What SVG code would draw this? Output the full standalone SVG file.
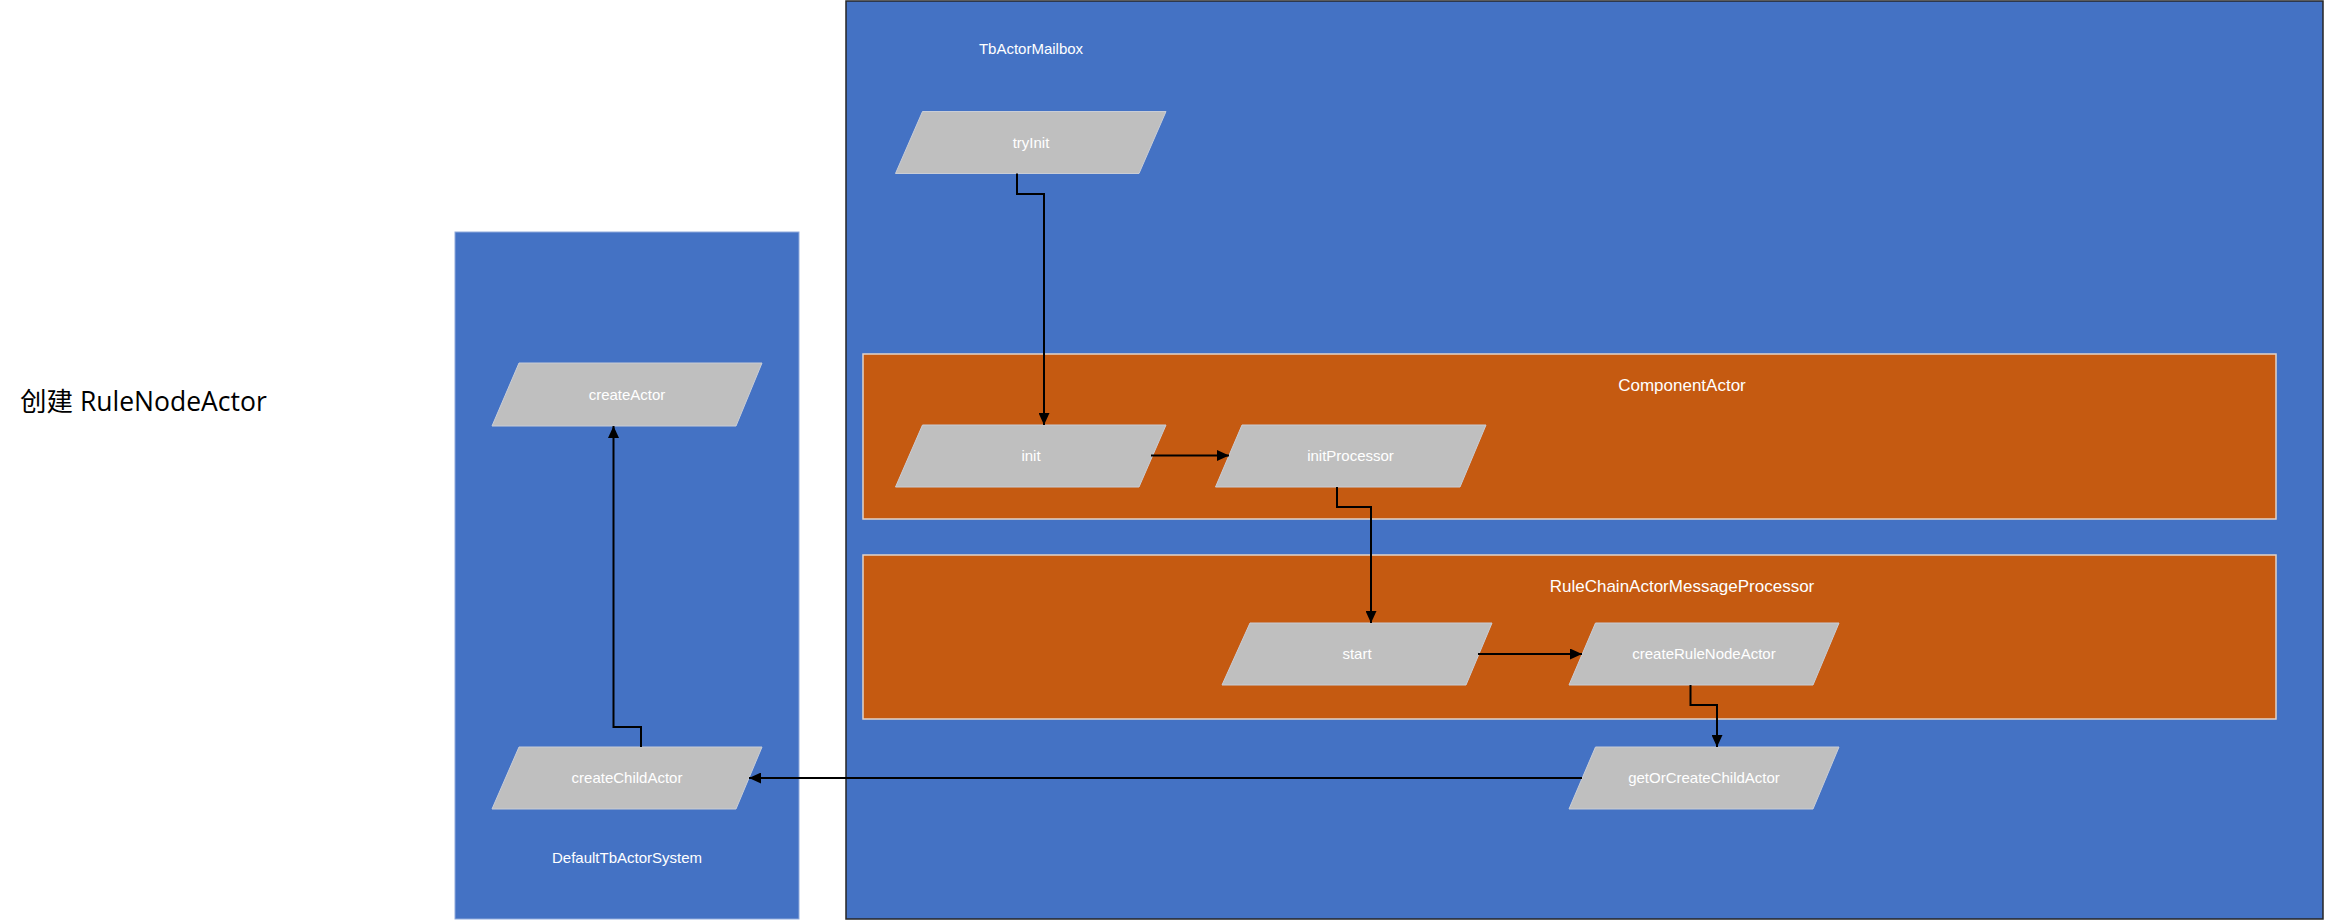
<svg xmlns="http://www.w3.org/2000/svg" width="2326" height="921" viewBox="0 0 2326 921">
<style>
.lbl{font-family:"Liberation Sans",Arial,sans-serif;font-size:15px;fill:#ffffff;text-anchor:middle}
.ttl{font-family:"Liberation Sans",Arial,sans-serif;font-size:17px;fill:#ffffff;text-anchor:middle}
.node{fill:#BFBFBF;stroke:#c9cdd6;stroke-width:1}
.orange{fill:#C55A11;stroke:#e2d3c8;stroke-width:1.5}
.conn{fill:none;stroke:#000000;stroke-width:2}
</style>
<defs>
<marker id="arr" markerUnits="userSpaceOnUse" viewBox="0 0 12 11" refX="12" refY="5.5" markerWidth="12" markerHeight="11" orient="auto">
<path d="M0,0 L12,5.5 L0,11 z" fill="#000000"/>
</marker>
</defs>
<rect width="2326" height="921" fill="#ffffff"/>
<g id="title">
<text x="20" y="411" font-family="'Open Sans','Noto Sans CJK SC',sans-serif" font-size="26.5" fill="#000000">创建 RuleNodeActor</text>
</g>
<g id="TbActorMailbox">
<rect x="846" y="1" width="1477" height="918" fill="#4472C4" stroke="#262626" stroke-width="1.5"/>
<text class="lbl" x="1031" y="54">TbActorMailbox</text>
</g>
<g id="DefaultTbActorSystem">
<rect x="455" y="232" width="344" height="687" fill="#4472C4" stroke="#8faadc" stroke-width="1"/>
<text class="lbl" x="627" y="863">DefaultTbActorSystem</text>
</g>
<g id="ComponentActor">
<rect class="orange" x="863" y="354" width="1413" height="165"/>
<text class="ttl" x="1682" y="391">ComponentActor</text>
</g>
<g id="RuleChainActorMessageProcessor">
<rect class="orange" x="863" y="555" width="1413" height="164"/>
<text class="ttl" x="1682" y="592">RuleChainActorMessageProcessor</text>
</g>
<g id="tryInit">
<polygon class="node" points="922.5,111.5 1166,111.5 1139,173.5 895.5,173.5"/>
<text class="lbl" x="1031" y="148">tryInit</text>
</g>
<g id="init">
<polygon class="node" points="922.5,425 1166,425 1139,487 895.5,487"/>
<text class="lbl" x="1031" y="461">init</text>
</g>
<g id="initProcessor">
<polygon class="node" points="1242,425 1486,425 1460,487 1215.5,487"/>
<text class="lbl" x="1350.5" y="461">initProcessor</text>
</g>
<g id="start">
<polygon class="node" points="1250,623 1492,623 1466,685 1222,685"/>
<text class="lbl" x="1357" y="659">start</text>
</g>
<g id="createRuleNodeActor">
<polygon class="node" points="1595.5,623 1839,623 1813,685 1569,685"/>
<text class="lbl" x="1704" y="659">createRuleNodeActor</text>
</g>
<g id="getOrCreateChildActor">
<polygon class="node" points="1595.5,747 1839,747 1813,809 1569,809"/>
<text class="lbl" x="1704" y="783">getOrCreateChildActor</text>
</g>
<g id="createActor">
<polygon class="node" points="519,363 762,363 736,426 492,426"/>
<text class="lbl" x="627" y="400">createActor</text>
</g>
<g id="createChildActor">
<polygon class="node" points="519,747 762,747 736,809 492,809"/>
<text class="lbl" x="627" y="783">createChildActor</text>
</g>
<g id="connectors">
<path class="conn" d="M1017,173.5 V194 H1044 V425" marker-end="url(#arr)"/>
<path class="conn" d="M1151,455.5 H1229" marker-end="url(#arr)"/>
<path class="conn" d="M1337,487 V507 H1371 V623" marker-end="url(#arr)"/>
<path class="conn" d="M1478,654 H1582" marker-end="url(#arr)"/>
<path class="conn" d="M1690.5,685 V705 H1717 V747" marker-end="url(#arr)"/>
<path class="conn" d="M1582,778 H749" marker-end="url(#arr)"/>
<path class="conn" d="M641,747 V727 H613.5 V426" marker-end="url(#arr)"/>
</g>
</svg>
